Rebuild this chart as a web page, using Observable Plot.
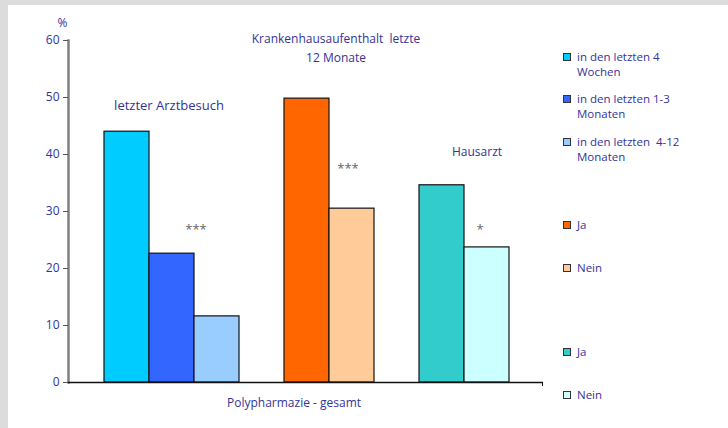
<!DOCTYPE html>
<html>
<head>
<meta charset="utf-8">
<script src="https://cdn.jsdelivr.net/npm/d3@7"></script>
<script src="https://cdn.jsdelivr.net/npm/@observablehq/plot@0.6"></script>
<style>
  html, body { margin: 0; padding: 0; }
  body { width: 728px; height: 428px; background: #dcdcdc; position: relative; overflow: hidden; font-family: "Open Sans", sans-serif; }
  #panel { position: absolute; left: 8px; top: 5px; width: 720px; height: 423px; background: #fff; }
  #chart { position: absolute; left: 0; top: 0; }
  .leg { position: absolute; left: 555px; font-size: 11.5px; line-height: 14px; color: #333399; }
  .leg .sw { position: absolute; left: 0; top: 3px; width: 6px; height: 6px; border: 1.5px solid #333; }
  .leg .tx { position: absolute; left: 14px; white-space: pre; }
</style>
</head>
<body>
<div id="panel"><div id="chart"></div></div>
<script>
// ---- data ----
const slots = ["a1", "a2", "a3", "s1", "b1", "b2", "s2", "c1", "c2"];
const barKeys = ["a1", "a2", "a3", "b1", "b2", "c1", "c2"];
const barValues = [44.0, 22.6, 11.6, 49.8, 30.5, 34.6, 23.7];
const palette = ["#00CCFF", "#3366FF", "#99CCFF", "#FF6600", "#FFCC99", "#33CCCC", "#CCFFFF"];
const legendLabels = ["in den letzten 4\nWochen", "in den letzten 1-3\nMonaten", "in den letzten  4-12\nMonaten", "Ja", "Nein", "Ja", "Nein"];
const yTicks = [0, 10, 20, 30, 40, 50, 60];
const groupTitles = ["letzter Arztbesuch", "Krankenhausaufenthalt  letzte\n12 Monate", "Hausarzt"];
const groupTitleX = ["a2", "b2", "c2"];
const groupTitleY = [49, 58.9, 40.7];
const sigText = ["***", "***", "*"];
const sigX = ["a3", "b2", "c2"];
const sigY = [26.8, 37.5, 26.8];
const xLabel = "Polypharmazie - gesamt";
const yUnit = "%";

const bars = barKeys.map((k, i) => ({key: k, value: barValues[i]}));
const titles = groupTitles.map((t, i) => ({t, x: groupTitleX[i], y: groupTitleY[i]}));
const sigs = sigText.map((t, i) => ({t, x: sigX[i], y: sigY[i]}));
const titleDx = [-3, -16, -10];
const titleSize = [13, 12, 12];
const sigDx = [-21, -4, -7];

const navy = "#333399";

const chart = Plot.plot({
  width: 720,
  height: 423,
  marginLeft: 60,
  marginRight: 185,
  marginTop: 35,
  marginBottom: 46,
  style: {fontFamily: "Open Sans, sans-serif", fontSize: "12px", color: navy, background: "transparent"},
  x: {domain: slots, range: [95, 502], padding: 0, axis: null},
  y: {domain: [0, 60], axis: null},
  color: {type: "ordinal", domain: barKeys, range: palette},
  marks: [
    Plot.barY(bars, {x: "key", y: "value", fill: "key", stroke: "#111", strokeWidth: 1.2, insetLeft: 0, insetRight: 0}),
    Plot.frame({anchor: "left", stroke: "#808080", strokeWidth: 2.5}),
    Plot.axisY({ticks: yTicks, tickSize: 5, stroke: "#555", text: null}),
    Plot.axisY({ticks: yTicks, tickSize: 0, tickPadding: 9, fill: navy, fontSize: 12}),
    Plot.ruleY([0], {stroke: "#111", strokeWidth: 1.5}),
    Plot.ruleX(["c2"], {y1: 0, y2: -0.7, stroke: "#111", strokeWidth: 1, dx: 55.5}),
    ...titles.map((d, i) => Plot.text([d], {x: "x", y: "y", text: "t", fill: navy, fontSize: titleSize[i], lineHeight: 1.55, dx: titleDx[i]})),
    ...sigs.map((d, i) => Plot.text([d], {x: "x", y: "y", text: "t", fill: "#666", fontSize: 13, dx: sigDx[i]})),
    Plot.text([xLabel], {frameAnchor: "bottom", text: d => d, fill: navy, fontSize: 12, dx: -12, dy: 24}),
    Plot.text([yUnit], {frameAnchor: "top-left", text: d => d, fill: navy, fontSize: 12, dx: -11, dy: -22})
  ]
});
document.getElementById("chart").appendChild(chart);

// legend (HTML), colours taken from the same colour scale
const legendTops = [45, 87, 130, 213, 256, 340, 383];
const panel = document.getElementById("panel");
legendLabels.forEach((lab, i) => {
  const item = document.createElement("div");
  item.className = "leg";
  item.style.top = legendTops[i] + "px";
  const sw = document.createElement("div");
  sw.className = "sw";
  sw.style.background = chart.scale("color").apply(barKeys[i]);
  item.appendChild(sw);
  lab.split("\n").forEach((line, j) => {
    const tx = document.createElement("div");
    tx.className = "tx";
    tx.style.top = (j * 15) + "px";
    tx.textContent = line;
    item.appendChild(tx);
  });
  panel.appendChild(item);
});
</script>
</body>
</html>
